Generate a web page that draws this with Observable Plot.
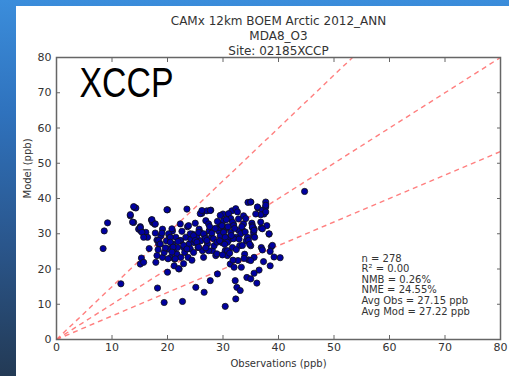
<!DOCTYPE html>
<html><head><meta charset="utf-8">
<script src="https://cdn.jsdelivr.net/npm/d3@7"></script>
<script src="https://cdn.jsdelivr.net/npm/@observablehq/plot@0.6"></script>
<style>
html,body{margin:0;padding:0;width:509px;height:376px;overflow:hidden;}
body{background:linear-gradient(to bottom,#3b8ddb 0%,#2f72bd 30%,#2a568c 65%,#233a55 100%);position:relative;}
#card{position:absolute;left:16px;top:6px;width:493px;height:370px;background:#fff;}
</style></head><body><div id="card"></div>
<script>
const titleLines = ["CAMx 12km BOEM Arctic 2012_ANN", "MDA8_O3", "Site: 02185XCCP"];
const siteLabel = "XCCP";
const xLabel = "Observations (ppb)";
const yLabel = "Model (ppb)";
const statsLines = ["n = 278", "R\u00b2 = 0.00", "NMB = 0.26%", "NME = 24.55%", "Avg Obs = 27.15 ppb", "Avg Mod = 27.22 ppb"];
const ticks = [0, 10, 20, 30, 40, 50, 60, 70, 80];
const ratios = [1.5, 1, 1 / 1.5];

const obs = [
8.4,8.6,9.2,11.6,13.3,13.9,14.0,14.3,14.8,15.1,15.2,15.1,15.3,15.7,15.9,16.1,16.4,16.7,17.1,17.3,
17.7,17.9,18.2,18.1,18.4,18.8,19.1,19.1,19.4,19.4,19.8,20.0,20.0,20.1,20.3,20.6,20.9,20.9,21.1,21.2,
21.3,21.5,21.7,21.8,22.1,22.4,22.4,22.7,22.9,23.1,23.3,23.5,23.6,23.7,23.9,24.1,24.2,24.5,24.7,24.8,
25.1,25.3,25.5,25.7,25.9,26.0,26.2,26.3,26.5,26.6,26.7,26.9,27.1,27.2,27.5,27.7,27.8,27.9,28.1,28.4,
28.7,29.0,29.2,29.3,29.5,29.6,29.8,30.0,30.1,30.2,30.4,30.4,30.5,30.7,30.8,31.0,31.1,31.3,31.4,31.6,
31.7,31.9,32.0,32.2,32.3,32.4,32.5,32.7,32.8,33.0,33.1,33.3,33.6,33.7,33.9,34.2,34.3,34.5,34.6,
35.0,35.3,35.5,35.2,36.3,37.1,37.7,37.7,37.4,36.8,35.9,37.9,36.9,35.3,35.6,35.5,35.7,38.3,35.0,36.9,
37.1,38.7,38.5,35.6,35.0,37.3,40.3,38.5,36.5,35.6,35.0,36.1,44.7,
13.9,13.3,13.7,15.1,15.4,15.7,17.2,17.8,17.8,19.0,18.4,18.7,18.3,18.1,19.9,20.2,20.8,20.5,20.5,21.0,
20.8,20.1,21.4,22.0,22.3,22.6,22.3,22.9,23.5,23.8,24.1,24.7,25.0,25.3,25.6,25.6,25.9,26.2,26.5,26.8,
27.1,27.4,27.4,27.7,28.0,28.3,28.9,28.9,29.5,29.8,30.1,30.4,30.8,30.8,31.0,31.4,31.7,31.9,31.9,32.3,
32.6,32.8,33.2,33.5,33.7,34.1,34.4,34.6,35.0,35.3,35.6,36.2,36.8,37.1,37.7,37.7,38.3,38.9,39.2,
29.0,29.4,30.3,30.9,31.5,32.1,32.9,30.6,31.2,29.9,28.6,33.4,34.0,34.8,33.8,32.4,31.8,22.9,21.9,24.4,
26.9,27.6,25.0,19.6
];
const mod = [
25.8,30.8,33.1,15.8,35.1,33.2,37.5,37.3,31.3,32.0,30.8,21.4,23.1,21.9,29.4,30.4,29.0,25.8,33.9,33.2,
32.7,21.9,14.6,28.2,27.1,29.4,31.3,23.3,10.5,24.7,28.0,36.8,19.1,25.7,29.4,23.3,30.8,27.1,25.2,20.9,
22.8,29.0,24.2,26.1,20.0,23.3,28.0,10.8,26.1,24.7,29.0,37.0,32.0,23.3,27.1,25.7,28.5,29.9,24.7,27.5,
14.8,29.0,26.1,31.3,30.4,28.0,35.8,25.2,23.3,13.4,29.4,33.7,36.5,27.1,30.8,16.7,36.7,29.0,25.2,26.6,
23.8,18.6,30.8,31.8,29.4,32.7,27.5,35.6,33.7,30.8,25.2,9.4,29.0,31.8,23.8,34.6,28.3,21.4,30.4,36.5,
26.1,32.7,20.5,16.7,11.5,29.0,14.8,22.4,34.2,26.6,13.9,20.5,30.8,35.1,24.2,28.0,17.6,38.9,22.6,
39.0,31.8,29.4,33.0,37.3,36.7,39.0,37.6,35.6,35.4,35.6,32.3,31.6,32.3,31.4,30.4,29.0,29.9,26.6,26.1,
25.4,26.3,25.0,23.3,22.4,22.1,23.2,20.9,19.7,18.8,17.2,16.0,42.0,
37.7,35.4,33.3,31.7,30.4,29.0,34.0,32.8,30.2,30.2,28.1,27.1,25.5,23.8,36.8,30.0,31.4,29.0,27.6,26.2,
24.8,22.9,22.9,20.1,32.8,30.7,28.1,26.7,25.7,32.3,30.0,29.5,28.1,27.6,26.2,30.4,35.7,36.6,30.0,28.6,
28.1,32.8,25.2,36.6,30.2,28.6,27.6,24.3,35.2,32.3,30.4,29.0,27.6,25.2,35.7,34.3,33.3,32.3,28.6,37.1,
36.2,31.0,30.0,26.7,32.8,34.3,29.0,28.1,39.0,31.9,31.0,37.6,33.3,31.4,38.1,36.2,30.0,26.7,23.4,
33.5,28.0,27.0,32.0,29.5,31.5,28.5,34.0,24.5,24.0,31.5,32.0,30.5,27.0,23.0,25.5,22.5,21.5,27.8,22.5,
26.0,32.0,33.0,26.0
];
const points = obs.map((o, i) => ({obs: o, mod: mod[i]}));

const axisColor = "#666";
const chart = Plot.plot({
  width: 493,
  height: 370,
  marginLeft: 40,
  marginRight: 9,
  marginTop: 51,
  marginBottom: 37,
  x: {domain: [0, 80], ticks: ticks, label: null},
  y: {domain: [0, 80], ticks: ticks, label: null},
  style: {fontFamily: "DejaVu Sans", fontSize: "11px", color: "#333", background: "transparent"},
  marks: [
    Plot.link(ratios, {x1: 0, y1: 0, x2: r => Math.min(80, 80 / r), y2: r => Math.min(80, 80 * r),
      stroke: "#ff6868", strokeOpacity: 0.85, strokeWidth: 1.4, strokeDasharray: "5,4"}),
    Plot.dot(points, {x: "obs", y: "mod", r: 3.1, fill: "#0000a0", stroke: "#111", strokeWidth: 0.8}),
    Plot.frame({stroke: axisColor, strokeWidth: 1.5}),
    Plot.axisX(ticks, {anchor: "bottom", tickSize: 4, dy: -4, fill: "none", stroke: axisColor, label: null}),
    Plot.axisX(ticks, {anchor: "top", tickSize: 4, dy: 4, fill: "none", stroke: axisColor, label: null}),
    Plot.axisY(ticks, {anchor: "left", tickSize: 4, dx: 4, fill: "none", stroke: axisColor, label: null}),
    Plot.axisY(ticks, {anchor: "right", tickSize: 4, dx: -4, fill: "none", stroke: axisColor, label: null}),
    Plot.axisX(ticks, {anchor: "bottom", tickSize: 0, tickPadding: 4, stroke: "none", fill: "#333", label: null}),
    Plot.axisY(ticks, {anchor: "left", tickSize: 0, tickPadding: 5, stroke: "none", fill: "#333", label: null}),
    Plot.text([xLabel], {frameAnchor: "bottom", dy: 27, fontSize: 10, fill: "#333"}),
    Plot.text([yLabel], {frameAnchor: "left", dx: -29, rotate: -90, fontSize: 10, fill: "#333"}),
    Plot.text([titleLines.join("\n")], {frameAnchor: "top", lineAnchor: "bottom", dy: -3, lineHeight: 1.22, fontSize: 12, fill: "#333"}),
    Plot.text([siteLabel], {frameAnchor: "top-left", textAnchor: "start", lineAnchor: "top", dx: 23, dy: 10,
      fontSize: 42, fontFamily: "Liberation Sans, sans-serif", fill: "#000", className: "site-label"}),
    Plot.text([statsLines.join("\n")], {frameAnchor: "bottom-left", textAnchor: "start", lineAnchor: "bottom",
      dx: 305, dy: -25, lineHeight: 1.06, fontSize: 10, fill: "#333"})
  ]
});
chart.querySelectorAll("text").forEach(t => {
  if (t.textContent === siteLabel) {
    t.setAttribute("textLength", "94");
    t.setAttribute("lengthAdjust", "spacingAndGlyphs");
  }
});
document.getElementById("card").appendChild(chart);
</script>
</body></html>
